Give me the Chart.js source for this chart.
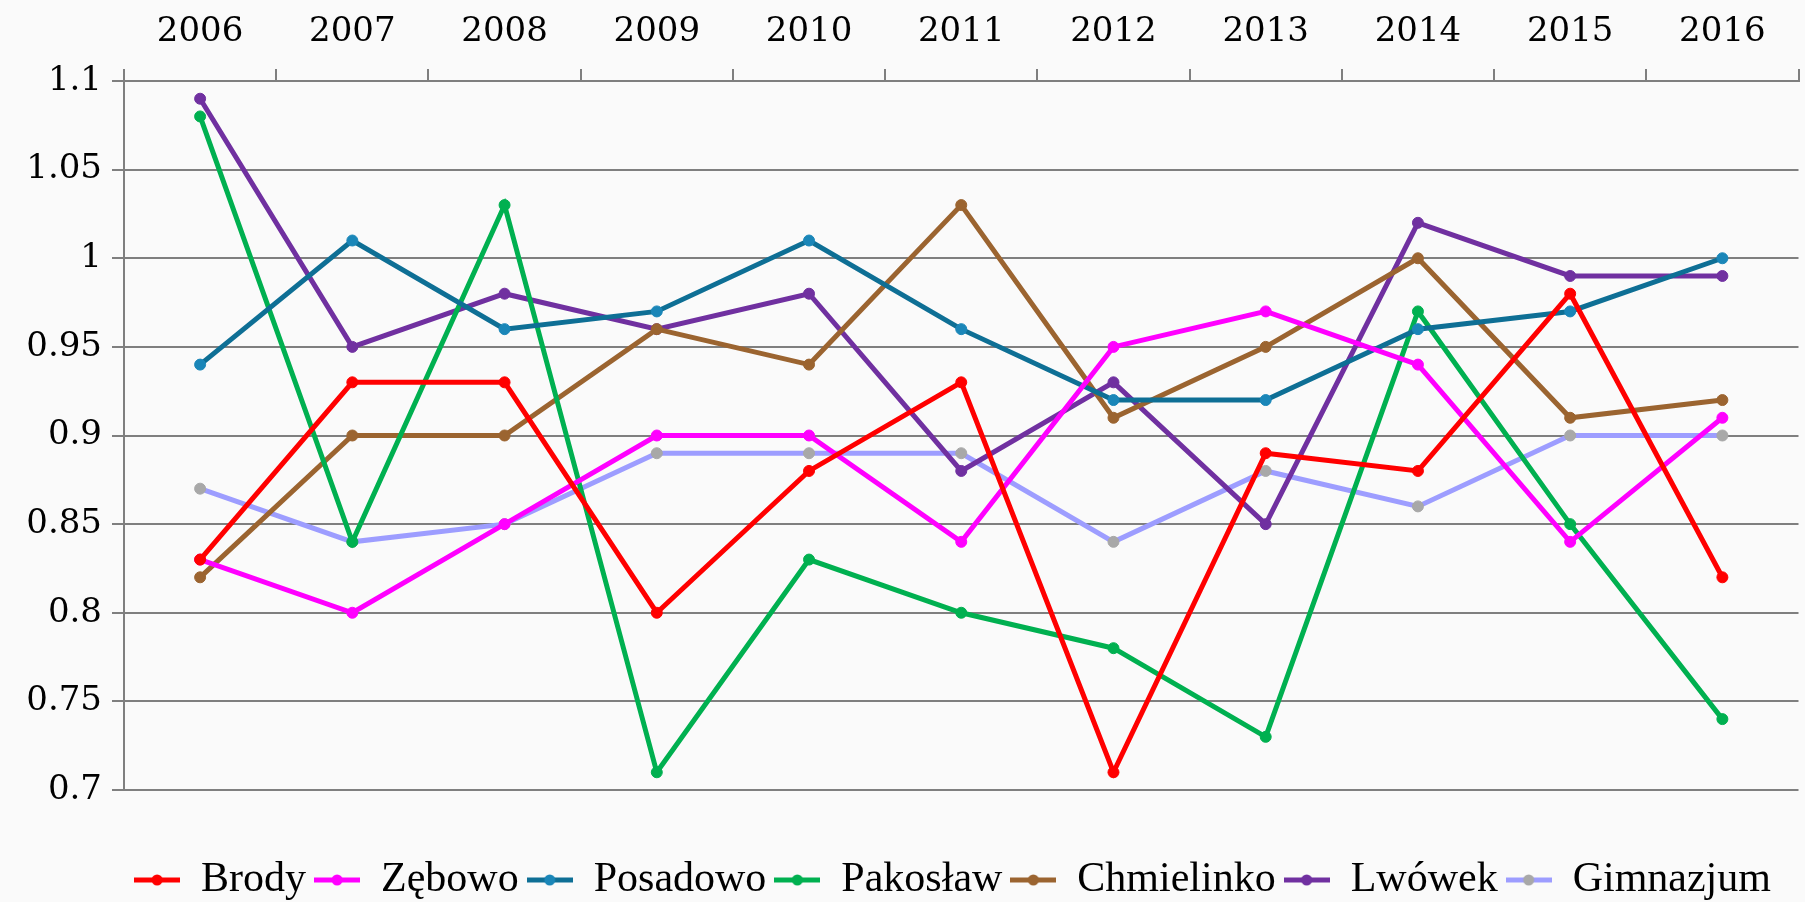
<!DOCTYPE html>
<html>
<head>
<meta charset="utf-8">
<script src="https://cdn.jsdelivr.net/npm/chart.js@4"></script>
<style>
  html, body { margin: 0; padding: 0; background: #fafafa; }
  #wrap { width: 1805px; height: 902px; position: relative; }
</style>
</head>
<body>
<div id="wrap"><canvas id="chart"></canvas></div>
<script>
// --- data ---
const years = ["2006", "2007", "2008", "2009", "2010", "2011", "2012", "2013", "2014", "2015", "2016"];

const brody      = [0.83, 0.93, 0.93, 0.80, 0.88, 0.93, 0.71, 0.89, 0.88, 0.98, 0.82];
const zebowo     = [0.83, 0.80, 0.85, 0.90, 0.90, 0.84, 0.95, 0.97, 0.94, 0.84, 0.91];
const posadowo   = [0.94, 1.01, 0.96, 0.97, 1.01, 0.96, 0.92, 0.92, 0.96, 0.97, 1.00];
const pakoslaw   = [1.08, 0.84, 1.03, 0.71, 0.83, 0.80, 0.78, 0.73, 0.97, 0.85, 0.74];
const chmielinko = [0.82, 0.90, 0.90, 0.96, 0.94, 1.03, 0.91, 0.95, 1.00, 0.91, 0.92];
const lwowek     = [1.09, 0.95, 0.98, 0.96, 0.98, 0.88, 0.93, 0.85, 1.02, 0.99, 0.99];
const gimnazjum  = [0.87, 0.84, 0.85, 0.89, 0.89, 0.89, 0.84, 0.88, 0.86, 0.90, 0.90];

const yMin = 0.7, yMax = 1.1, yStep = 0.05;

const tickFont = "'DejaVu Serif', 'Liberation Serif', serif";
const legendFont = "'Liberation Serif', 'DejaVu Serif', serif";

// small "line with a dot" picture for each legend entry
function legendIcon(color, dot) {
  const c = document.createElement("canvas");
  c.width = 46; c.height = 14;
  const g = c.getContext("2d");
  g.strokeStyle = color;
  g.lineWidth = 5;
  g.beginPath(); g.moveTo(0, 7); g.lineTo(46, 7); g.stroke();
  g.fillStyle = dot;
  g.beginPath(); g.arc(23, 7, 5.5, 0, Math.PI * 2); g.fill();
  return c;
}

function series(label, data, color, pointColor) {
  return {
    label: label,
    data: data,
    borderColor: color,
    backgroundColor: color,
    borderWidth: 5,
    pointRadius: 5.5,
    pointHoverRadius: 5.5,
    pointBackgroundColor: pointColor || color,
    pointBorderColor: pointColor || color,
    pointBorderWidth: 1,
    tension: 0,
    icon: legendIcon(color, pointColor || color)
  };
}

// nudge legend row right/down, like in the original
const legendShift = {
  id: "legendShift",
  afterLayout(chart) {
    const lg = chart.legend;
    lg.left += 50; lg.right += 50;
    lg.top += 9; lg.bottom += 9;
  }
};

const ctx = document.getElementById("chart");
new Chart(ctx, {
  type: "line",
  data: {
    labels: years,
    datasets: [
      series("Brody", brody, "#ff0000"),
      series("Zębowo", zebowo, "#ff00ff"),
      series("Posadowo", posadowo, "#0e6f95", "#1a86b8"),
      series("Pakosław", pakoslaw, "#00b050"),
      series("Chmielinko", chmielinko, "#9b6430"),
      series("Lwówek", lwowek, "#7030a0"),
      series("Gimnazjum", gimnazjum, "#9d9dff", "#a8a8a8")
    ]
  },
  plugins: [legendShift],
  options: {
    responsive: true,
    maintainAspectRatio: false,
    animation: false,
    layout: { padding: { left: 0, right: 0, top: 0, bottom: 0 } },
    plugins: {
      legend: {
        position: "bottom",
        // empty title just to push the legend row down under the plot
        title: { display: true, text: " ", font: { size: 10 }, padding: { top: 40, bottom: 0 } },
        labels: {
          font: { family: legendFont, size: 42 },
          color: "#000",
          usePointStyle: true,
          pointStyleWidth: 46,
          boxHeight: 14,
          padding: 8,
          generateLabels: chart => {
            const items = Chart.defaults.plugins.legend.labels.generateLabels(chart);
            items.forEach(it => { it.pointStyle = chart.data.datasets[it.datasetIndex].icon; });
            return items;
          }
        }
      },
      tooltip: { enabled: false }
    },
    scales: {
      x: {
        position: "top",
        offset: true,
        grid: {
          offset: true,
          drawOnChartArea: false,
          color: "#7f7f7f",
          lineWidth: 2,
          tickLength: 12
        },
        border: { color: "#7f7f7f", width: 2 },
        ticks: {
          font: { family: tickFont, size: 34 },
          color: "#000",
          padding: 16,
          maxRotation: 0
        },
        afterFit: s => { s.height = 81; }
      },
      y: {
        min: yMin,
        max: yMax,
        grid: { color: "#7f7f7f", lineWidth: 2, tickLength: 12 },
        border: { color: "#7f7f7f", width: 2 },
        ticks: {
          stepSize: yStep,
          font: { family: tickFont, size: 34 },
          color: "#000",
          padding: 10,
          callback: v => String(Number(v.toFixed(2)))
        },
        afterFit: s => { s.width = 124; }
      }
    }
  }
});
</script>
</body>
</html>
